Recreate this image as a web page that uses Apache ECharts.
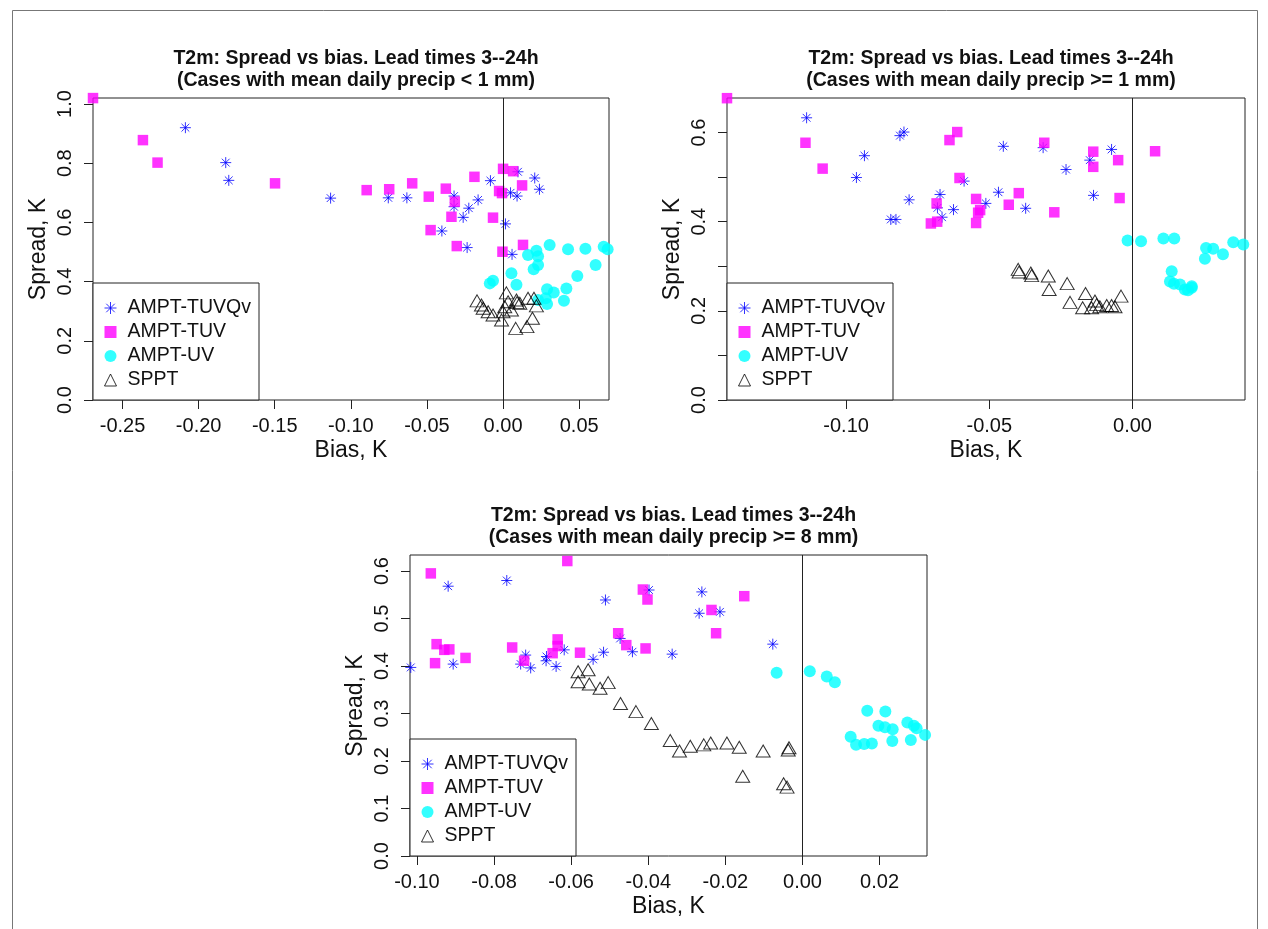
<!DOCTYPE html>
<html><head><meta charset="utf-8">
<script src="https://cdn.jsdelivr.net/npm/echarts@6/dist/echarts.min.js"></script>
<style>html,body{margin:0;padding:0;background:#fff}#c{width:1268px;height:929px}</style>
</head><body><div id="c"></div>
<script>
// ---------- text ----------
const seriesNames = ['AMPT-TUVQv', 'AMPT-TUV', 'AMPT-UV', 'SPPT'];
const titleLine1 = 'T2m: Spread vs bias. Lead times 3--24h';
const subtitles = ['(Cases with mean daily precip < 1 mm)', '(Cases with mean daily precip >= 1 mm)', '(Cases with mean daily precip >= 8 mm)'];
const xName = 'Bias, K';
const yName = 'Spread, K';

// ---------- axis ranges & ticks ----------
const xRange1 = [-0.2694, 0.0696], yRange1 = [0, 1.0203];
const xRange2 = [-0.1416, 0.0393], yRange2 = [0, 0.6774];
const xRange3 = [-0.1018, 0.0323], yRange3 = [0, 0.6337];
const xTicks1 = [-0.25, -0.20, -0.15, -0.10, -0.05, 0.00, 0.05];
const yTicks1 = [0, 0.2, 0.4, 0.6, 0.8, 1.0];
const xTicks2 = [-0.10, -0.05, 0.00];
const yTicks2 = [0, 0.1, 0.2, 0.3, 0.4, 0.5, 0.6];
const yLabels2 = [0, 0.2, 0.4, 0.6];
const xTicks3 = [-0.10, -0.08, -0.06, -0.04, -0.02, 0.00, 0.02];
const yTicks3 = [0, 0.1, 0.2, 0.3, 0.4, 0.5, 0.6];

// ---------- data: [bias, spread] ----------
// Panel 1: precip < 1 mm
const p1TUVQv = [[-0.2087,0.920],[-0.1822,0.802],[-0.1802,0.742],[-0.1133,0.682],[-0.0754,0.683],[-0.0632,0.683],[-0.0322,0.689],[-0.0322,0.653],[-0.0164,0.676],[-0.0225,0.648],[-0.0262,0.617],[-0.0402,0.571],[-0.0236,0.515],[-0.0083,0.741],[0.0098,0.771],[0.0208,0.750],[0.0239,0.712],[0.0049,0.700],[0.0092,0.689],[0.0016,0.595],[0.0059,0.492]];
const p1TUV = [[-0.2694,1.020],[-0.2366,0.878],[-0.2270,0.802],[-0.1498,0.732],[-0.0896,0.709],[-0.0748,0.712],[-0.0597,0.732],[-0.0488,0.687],[-0.0376,0.714],[-0.0317,0.670],[-0.0339,0.619],[-0.0476,0.574],[-0.0304,0.520],[-0.0188,0.754],[0.0000,0.781],[0.0066,0.773],[0.0125,0.725],[-0.0026,0.706],[-0.0007,0.699],[-0.0066,0.616],[-0.0004,0.501],[0.0131,0.524]];
const p1UV = [[0.0306,0.524],[0.0427,0.509],[0.0541,0.511],[0.0661,0.518],[0.0687,0.509],[0.0219,0.504],[0.0164,0.490],[0.0230,0.486],[0.0230,0.456],[0.0201,0.442],[0.0608,0.456],[0.0488,0.419],[0.0055,0.428],[0.0088,0.389],[-0.0066,0.403],[-0.0087,0.394],[0.0289,0.374],[0.0333,0.363],[0.0416,0.377],[0.0400,0.335],[0.0280,0.344],[0.0289,0.324],[0.0230,0.338]];
const p1SPPT = [[0.0022,0.362],[-0.0171,0.335],[-0.0142,0.321],[-0.0131,0.310],[-0.0098,0.298],[-0.0066,0.287],[-0.0010,0.270],[0.0000,0.298],[0.0033,0.332],[0.0055,0.304],[0.0088,0.338],[0.0092,0.329],[0.0110,0.327],[0.0164,0.344],[0.0203,0.344],[0.0219,0.318],[0.0193,0.276],[0.0157,0.248],[0.0083,0.242],[0.0011,0.315]];

// Panel 2: precip >= 1 mm
const p2TUVQv = [[-0.1138,0.633],[-0.0936,0.548],[-0.0964,0.499],[-0.0812,0.593],[-0.0798,0.601],[-0.0780,0.449],[-0.0844,0.405],[-0.0826,0.405],[-0.0588,0.491],[-0.0672,0.461],[-0.0681,0.431],[-0.0625,0.427],[-0.0665,0.410],[-0.0512,0.441],[-0.0451,0.569],[-0.0312,0.566],[-0.0073,0.562],[-0.0149,0.538],[-0.0232,0.517],[-0.0468,0.466],[-0.0373,0.430],[-0.0136,0.459]];
const p2TUV = [[-0.1416,0.677],[-0.1142,0.577],[-0.1082,0.519],[-0.0639,0.583],[-0.0612,0.601],[-0.0604,0.498],[-0.0684,0.441],[-0.0704,0.396],[-0.0682,0.400],[-0.0546,0.451],[-0.0532,0.426],[-0.0539,0.420],[-0.0546,0.397],[-0.0308,0.577],[-0.0137,0.557],[-0.0050,0.538],[-0.0137,0.523],[-0.0397,0.464],[-0.0432,0.438],[-0.0273,0.421],[-0.0045,0.453],[0.0079,0.558]];
const p2UV = [[-0.0017,0.358],[0.0030,0.356],[0.0108,0.362],[0.0146,0.362],[0.0257,0.341],[0.0282,0.339],[0.0352,0.354],[0.0387,0.349],[0.0316,0.327],[0.0253,0.317],[0.0137,0.289],[0.0131,0.266],[0.0145,0.261],[0.0166,0.259],[0.0183,0.248],[0.0207,0.252],[0.0207,0.255],[0.0194,0.246]];
const p2SPPT = [[-0.0399,0.293],[-0.0396,0.287],[-0.0355,0.285],[-0.0352,0.279],[-0.0294,0.278],[-0.0291,0.248],[-0.0228,0.261],[-0.0218,0.219],[-0.0164,0.239],[-0.0174,0.207],[-0.0143,0.207],[-0.0131,0.222],[-0.0125,0.214],[-0.0114,0.209],[-0.0090,0.212],[-0.0073,0.212],[-0.0061,0.209],[-0.0040,0.233]];

// Panel 3: precip >= 8 mm
const p3TUVQv = [[-0.1016,0.397],[-0.0919,0.568],[-0.0906,0.404],[-0.0767,0.580],[-0.0718,0.423],[-0.0731,0.404],[-0.0705,0.396],[-0.0664,0.420],[-0.0665,0.411],[-0.0639,0.399],[-0.0618,0.434],[-0.0543,0.414],[-0.0516,0.429],[-0.0511,0.539],[-0.0473,0.458],[-0.0441,0.430],[-0.0398,0.560],[-0.0338,0.425],[-0.0261,0.556],[-0.0268,0.511],[-0.0214,0.514],[-0.0077,0.446]];
const p3TUV = [[-0.0895,0.634],[-0.0964,0.595],[-0.0949,0.446],[-0.0929,0.434],[-0.0916,0.435],[-0.0953,0.406],[-0.0874,0.417],[-0.0753,0.439],[-0.0722,0.411],[-0.0635,0.456],[-0.0635,0.442],[-0.0648,0.427],[-0.0610,0.621],[-0.0577,0.428],[-0.0478,0.469],[-0.0457,0.444],[-0.0407,0.437],[-0.0414,0.561],[-0.0402,0.540],[-0.0151,0.547],[-0.0236,0.518],[-0.0224,0.469]];
const p3UV = [[-0.0067,0.386],[0.0019,0.389],[0.0063,0.378],[0.0084,0.366],[0.0168,0.306],[0.0215,0.304],[0.0197,0.274],[0.0214,0.271],[0.0234,0.267],[0.0272,0.281],[0.0289,0.274],[0.0296,0.269],[0.0318,0.255],[0.0281,0.244],[0.0233,0.242],[0.0125,0.251],[0.0139,0.234],[0.0160,0.236],[0.0180,0.237]];
const p3SPPT = [[-0.0582,0.388],[-0.0556,0.392],[-0.0582,0.367],[-0.0553,0.362],[-0.0525,0.353],[-0.0504,0.365],[-0.0472,0.321],[-0.0432,0.304],[-0.0392,0.279],[-0.0343,0.243],[-0.0319,0.221],[-0.0291,0.231],[-0.0256,0.234],[-0.0238,0.238],[-0.0196,0.238],[-0.0164,0.229],[-0.0102,0.221],[-0.0035,0.228],[-0.0037,0.223],[-0.0155,0.168],[-0.0049,0.152],[-0.0040,0.145]];

// ---------- build ----------
const FONT = 'Liberation Sans, Arial, sans-serif';
const STAR = 'path://M0,-10L0,10M-10,0L10,0M-7.07,-7.07L7.07,7.07M-7.07,7.07L7.07,-7.07';
const styles = [
  { symbol: STAR, symbolSize: 11, itemStyle: { color: '#0000ff', borderColor: '#0000ff', borderWidth: 1 } },
  { symbol: 'rect', symbolSize: 10.5, itemStyle: { color: '#ff00ff' } },
  { symbol: 'circle', symbolSize: 12, itemStyle: { color: '#00ffff' } },
  { symbol: 'triangle', symbolSize: [14, 12], itemStyle: { color: 'rgba(0,0,0,0)', borderColor: '#000', borderWidth: 1 } }
];
const panels = [
  { grid: { left: 93, top: 98, width: 516, height: 302 }, xr: xRange1, yr: yRange1, xt: xTicks1, yt: yTicks1, yl: yTicks1, data: [p1TUVQv, p1TUV, p1UV, p1SPPT], sub: subtitles[0] },
  { grid: { left: 727, top: 98, width: 518, height: 302 }, xr: xRange2, yr: yRange2, xt: xTicks2, yt: yTicks2, yl: yLabels2, data: [p2TUVQv, p2TUV, p2UV, p2SPPT], sub: subtitles[1] },
  { grid: { left: 410, top: 555, width: 517, height: 301 }, xr: xRange3, yr: yRange3, xt: xTicks3, yt: yTicks3, yl: yTicks3, data: [p3TUVQv, p3TUV, p3UV, p3SPPT], sub: subtitles[2] }
];

const option = { animation: false, backgroundColor: '#fff', grid: [], xAxis: [], yAxis: [], series: [], title: [], legend: [],
  graphic: [{ type: 'rect', silent: true, shape: { x: 12.5, y: 10.5, width: 1245, height: 940 }, style: { fill: 'none', stroke: '#777', lineWidth: 1 } }] };

panels.forEach((p, i) => {
  option.grid.push(Object.assign({ show: true, borderColor: '#222', borderWidth: 1, backgroundColor: 'rgba(0,0,0,0)', containLabel: false }, p.grid));
  option.xAxis.push({
    gridIndex: i, type: 'value', min: p.xr[0], max: p.xr[1],
    axisLine: { show: false, onZero: false },
    axisTick: { show: true, inside: false, length: 9, customValues: p.xt, lineStyle: { color: '#222', width: 1 } },
    axisLabel: { customValues: p.xt, formatter: v => v.toFixed(2), fontFamily: FONT, fontSize: 20, color: '#111', margin: 16 },
    splitLine: { show: false },
    name: xName, nameLocation: 'middle', nameGap: 39, nameTextStyle: { fontFamily: FONT, fontSize: 23, color: '#111' }
  });
  option.yAxis.push({
    gridIndex: i, type: 'value', min: p.yr[0], max: p.yr[1],
    axisLine: { show: false, onZero: false },
    axisTick: { show: true, inside: false, length: 9, customValues: p.yt, lineStyle: { color: '#222', width: 1 } },
    axisLabel: { customValues: p.yl, formatter: v => v.toFixed(1), rotate: 90, fontFamily: FONT, fontSize: 20, color: '#111', margin: 18 },
    splitLine: { show: false },
    name: yName, nameLocation: 'middle', nameGap: 43, nameTextStyle: { fontFamily: FONT, fontSize: 23, color: '#111' }
  });
  p.data.forEach((d, k) => {
    const s = Object.assign({ type: 'scatter', name: seriesNames[k], xAxisIndex: i, yAxisIndex: i, data: d, clip: true, silent: true }, styles[k]);
    if (k === 0) {
      s.markLine = { silent: true, symbol: ['none', 'none'], label: { show: false }, lineStyle: { color: '#222', width: 1, type: 'solid' }, data: [{ xAxis: 0 }] };
    }
    option.series.push(s);
  });
  const cx = p.grid.left + p.grid.width / 2;
  option.title.push({ text: titleLine1 + '\n' + p.sub, left: cx, top: p.grid.top - 55, textAlign: 'center',
    textStyle: { fontFamily: FONT, fontSize: 19.5, fontWeight: 'bold', lineHeight: 21.5, color: '#111' } });
  option.legend.push({
    data: seriesNames, orient: 'vertical', left: p.grid.left, top: p.grid.top + p.grid.height - 117,
    padding: [15, 8, 10, 11], itemWidth: 12, itemHeight: 12, itemGap: 4,
    borderColor: '#222', borderWidth: 1, backgroundColor: '#fff', selectedMode: false,
    itemStyle: { borderWidth: 1 },
    textStyle: { fontFamily: FONT, fontSize: 19.5, lineHeight: 20, color: '#111', padding: [0, 0, 0, 6] }
  });
});

const chart = echarts.init(document.getElementById('c'), null, { renderer: 'canvas' });
chart.setOption(option);
</script>
</body></html>
